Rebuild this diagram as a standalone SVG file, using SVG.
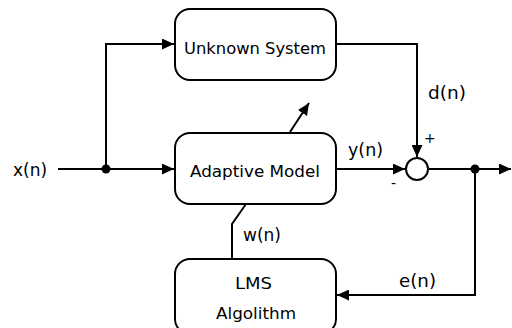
<svg xmlns="http://www.w3.org/2000/svg" width="512" height="328" viewBox="0 0 512 328">
<style>
.box{fill:#fff;stroke:#000;stroke-width:2}
.ln{fill:none;stroke:#000;stroke-width:2}
.t{font-family:"DejaVu Sans",sans-serif;font-size:16px;fill:#000}
.l{font-family:"DejaVu Sans",sans-serif;font-size:17px;fill:#000}
.s{font-family:"DejaVu Sans",sans-serif;font-size:14px;fill:#000}
</style>
<defs>
<marker id="ah" viewBox="0 0 10 10" refX="10" refY="5" markerWidth="6" markerHeight="5.5" markerUnits="strokeWidth" orient="auto" preserveAspectRatio="none">
<path d="M0,0 L10,5 L0,10 z" fill="#000"/>
</marker>
</defs>
<rect width="512" height="328" fill="#fff"/>
<g id="connectors">
<path class="ln" d="M58,169 H174" marker-end="url(#ah)"/>
<path class="ln" d="M106,169 V44 H174" marker-end="url(#ah)"/>
<path class="ln" d="M336,44 H417 V157" marker-end="url(#ah)"/>
<path class="ln" d="M336,169 H405" marker-end="url(#ah)"/>
<path class="ln" d="M429,169 H511" marker-end="url(#ah)"/>
<path class="ln" d="M475,169 V295 H337" marker-end="url(#ah)"/>
<path class="ln" d="M232,259 V224 L246,204"/>
<path class="ln" d="M290,132 L309,103" marker-end="url(#ah)"/>
<circle cx="106" cy="169" r="4.5" fill="#000"/>
<circle cx="475" cy="169" r="4.5" fill="#000"/>
</g>
<g id="unknown">
<rect class="box" x="175" y="9" width="161" height="71" rx="15"/>
<text class="t" x="184" y="54" textLength="142" lengthAdjust="spacingAndGlyphs">Unknown System</text>
</g>
<g id="adaptive">
<rect class="box" x="175" y="133" width="161" height="71" rx="15"/>
<text class="t" x="190" y="177" textLength="130" lengthAdjust="spacingAndGlyphs">Adaptive Model</text>
</g>
<g id="lms">
<rect class="box" x="175" y="259" width="161" height="75" rx="15"/>
<text class="t" x="235" y="289" textLength="37" lengthAdjust="spacingAndGlyphs">LMS</text>
<text class="t" x="216" y="319" textLength="80" lengthAdjust="spacingAndGlyphs">Algolithm</text>
</g>
<g id="sum">
<circle cx="417" cy="169" r="11" fill="#fff" stroke="#000" stroke-width="2"/>
<text class="s" x="424" y="143">+</text>
<text class="s" x="391" y="188">-</text>
</g>
<g id="labels">
<text class="l" x="13" y="176" textLength="34" lengthAdjust="spacingAndGlyphs">x(n)</text>
<text class="l" x="428" y="99" textLength="38" lengthAdjust="spacingAndGlyphs">d(n)</text>
<text class="l" x="348" y="156" textLength="35" lengthAdjust="spacingAndGlyphs">y(n)</text>
<text class="l" x="243" y="241" textLength="38" lengthAdjust="spacingAndGlyphs">w(n)</text>
<text class="l" x="399" y="287" textLength="37" lengthAdjust="spacingAndGlyphs">e(n)</text>
</g>
</svg>
